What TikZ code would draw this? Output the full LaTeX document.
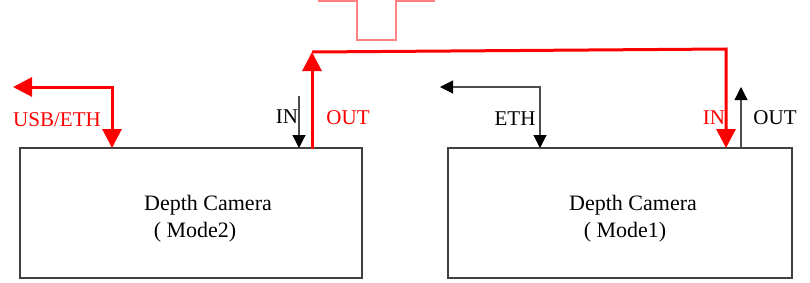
\documentclass[tikz,border=0pt]{standalone}
\usepackage{fontspec}
\setmainfont{Liberation Serif}
\usetikzlibrary{arrows.meta, positioning}

\begin{document}
\begin{tikzpicture}[x=1pt, y=-1pt, font=\fontsize{21}{24}\selectfont,
  cambox/.style={draw=black!75, line width=1.2pt, minimum width=342pt, minimum height=130pt, inner sep=0pt},
  txt/.style={anchor=base, inner sep=0pt},
  camtxt/.style={txt, font=\fontsize{22}{26}\selectfont},
  sig/.style={draw=red, line width=3pt, -{Triangle[length=19pt, width=19pt]}},
  sigboth/.style={sig, {Triangle[length=19pt, width=19pt]}-{Triangle[length=19pt, width=19pt]}},
  aux/.style={draw=black!70, line width=1.1pt, -{Triangle[length=13pt, width=13pt, color=black]}},
  auxboth/.style={aux, {Triangle[length=13pt, width=13pt, color=black]}-{Triangle[length=13pt, width=13pt, color=black]}},
  pulse/.style={draw=red!50, line width=1.3pt}]
\useasboundingbox (0,0) rectangle (810,282);
\node[cambox] (cam2) at (191,213) {};
\node[cambox, minimum width=344pt] (cam1) at (620,213) {};
\node[camtxt] (cam2a) at (208,210) {Depth Camera};
\node[camtxt] (cam2b) at (195,237) {( Mode2)};
\node[camtxt] (cam1a) at (633,210) {Depth Camera};
\node[camtxt] (cam1b) at (625,237) {( Mode1)};
\coordinate (usbport) at (112,148);
\coordinate (usbbend) at (112,87);
\coordinate (usbend) at (13,87);
\coordinate (in2port) at (299,148);
\coordinate (in2start) at (299,96);
\coordinate (out2port) at (312,149);
\coordinate (out2bend) at (312,52);
\coordinate (in1bend) at (726,49);
\coordinate (in1port) at (726,148);
\coordinate (ethport) at (540,148);
\coordinate (ethbend) at (540,87);
\coordinate (ethend) at (440,87);
\coordinate (out1port) at (741,148);
\coordinate (out1end) at (741,87);
\draw[pulse] (318,1) -- (357,1) -- (357,40) -- (396,40) -- (396,1) -- (435,1);
\draw[sigboth] (usbend) -- (usbbend) -- (usbport);
\draw[sig] (out2port) -- (out2bend);
\draw[sig] (out2bend) -- (in1bend) -- (in1port);
\draw[aux] (in2start) -- (in2port);
\draw[auxboth] (ethend) -- (ethbend) -- (ethport);
\draw[aux] (out1port) -- (out1end);
\node[txt, text=red] (usblbl) at (57,126) {USB/ETH};
\node[txt] (in2lbl) at (287,123) {IN};
\node[txt, text=red] (out2lbl) at (348,124) {OUT};
\node[txt] (ethlbl) at (515,125) {ETH};
\node[txt, text=red] (in1lbl) at (714,124) {IN};
\node[txt] (out1lbl) at (775,124) {OUT};
\end{tikzpicture}
\end{document}
